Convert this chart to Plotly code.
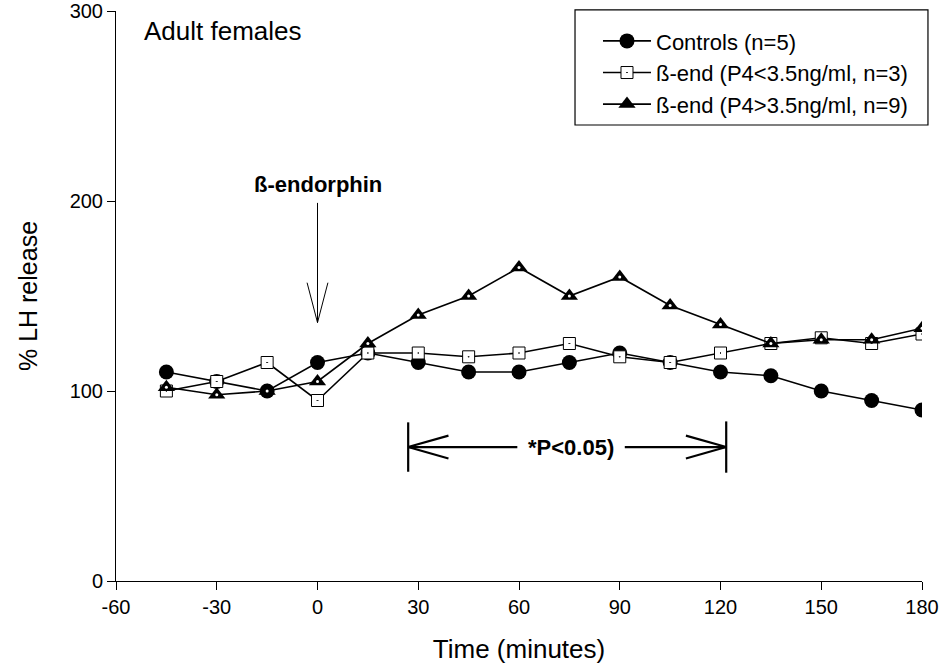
import plotly.graph_objects as go

time_min = [-45, -30, -15, 0, 15, 30, 45, 60, 75, 90, 105, 120, 135, 150, 165, 180]
controls = [110, 105, 100, 115, 120, 115, 110, 110, 115, 120, 115, 110, 108, 100, 95, 90]
bend_low = [100, 105, 115, 95, 120, 120, 118, 120, 125, 118, 115, 120, 125, 128, 125, 130]
bend_high = [102, 98, 100, 105, 125, 140, 150, 165, 150, 160, 145, 135, 125, 127, 127, 133]

x_ticks = [-60, -30, 0, 30, 60, 90, 120, 150, 180]
y_ticks = [0, 100, 200, 300]

FONT = "Liberation Sans, Arial, sans-serif"

fig = go.Figure()
fig.add_trace(go.Scatter(
    x=time_min, y=controls, mode="lines+markers", name="Controls (n=5)",
    line=dict(color="black", width=1.6),
    marker=dict(symbol="circle", size=15, color="black", line=dict(color="black", width=0))))
fig.add_trace(go.Scatter(
    x=time_min, y=bend_low, mode="lines+markers", name="ß-end (P4<3.5ng/ml, n=3)",
    line=dict(color="black", width=1.6),
    marker=dict(symbol="square-dot", size=12, color="white", line=dict(color="black", width=1))))
fig.add_trace(go.Scatter(
    x=time_min, y=bend_high, mode="lines+markers", name="ß-end (P4>3.5ng/ml, n=9)",
    line=dict(color="black", width=1.6),
    marker=dict(symbol="triangle-up", size=15, color="black", line=dict(color="black", width=0))))
fig.add_trace(go.Scatter(
    x=time_min, y=bend_high, mode="markers", showlegend=False, hoverinfo="skip",
    marker=dict(symbol="circle", size=3, color="white", line=dict(width=0))))

# beta-endorphin arrow
line_style = dict(color="black", width=1)
fig.add_shape(type="line", x0=0, x1=0, y0=199, y1=136, line=line_style)
fig.add_shape(type="line", x0=-3.1, x1=0, y0=157, y1=136, line=line_style)
fig.add_shape(type="line", x0=3.1, x1=0, y0=157, y1=136, line=line_style)

# significance bracket
b = dict(color="black", width=2.2)
fig.add_shape(type="line", x0=27, x1=27, y0=57.5, y1=83.5, line=b)
fig.add_shape(type="line", x0=121.7, x1=121.7, y0=57, y1=84, line=b)
fig.add_shape(type="line", x0=27, x1=59.5, y0=70.5, y1=70.5, line=b)
fig.add_shape(type="line", x0=91.5, x1=121.7, y0=70.5, y1=70.5, line=b)
fig.add_shape(type="line", x0=27, x1=39, y0=70.5, y1=76.5, line=b)
fig.add_shape(type="line", x0=27, x1=39, y0=70.5, y1=64.5, line=b)
fig.add_shape(type="line", x0=121.7, x1=109.7, y0=70.5, y1=76.5, line=b)
fig.add_shape(type="line", x0=121.7, x1=109.7, y0=70.5, y1=64.5, line=b)

# legend frame
fig.add_shape(type="rect", xref="paper", yref="paper",
              x0=0.5695, x1=1.0074, y0=0.8, y1=1.0018,
              line=dict(color="black", width=1.2), fillcolor="white", layer="above")

fig.add_annotation(x=75.5, y=70.5, text="<b>*P<0.05)</b>", showarrow=False,
                   font=dict(family=FONT, size=22, color="black"))
fig.add_annotation(x=0, y=208.5, text="<b>ß-endorphin</b>", showarrow=False,
                   font=dict(family=FONT, size=22, color="black"))
fig.add_annotation(x=-52.4, y=289.5, text="Adult females", showarrow=False, xanchor="left",
                   font=dict(family=FONT, size=26, color="black"))

fig.update_layout(
    width=943, height=665,
    margin=dict(l=116, r=21, t=11, b=84, autoexpand=False),
    plot_bgcolor="white", paper_bgcolor="white",
    font=dict(family=FONT, size=20, color="black"),
    legend=dict(x=0.598, y=0.984, xanchor="left", yanchor="top",
                borderwidth=0, bgcolor="rgba(0,0,0,0)",
                font=dict(family=FONT, size=22, color="black"),
                tracegroupgap=0, itemwidth=48),
    xaxis=dict(range=[-60, 180], tickvals=x_ticks, ticktext=[str(v) for v in x_ticks],
               showgrid=False, zeroline=False, showline=True, linecolor="black", linewidth=1,
               ticks="outside", ticklen=8, tickcolor="black",
               tickfont=dict(size=20),
               title=dict(text="Time (minutes)", font=dict(size=26), standoff=22)),
    yaxis=dict(range=[0, 300], tickvals=y_ticks, showgrid=False, zeroline=False,
               showline=True, linecolor="black", linewidth=1,
               ticks="outside", ticklen=8, tickcolor="black",
               tickfont=dict(size=20),
               title=dict(text="% LH release", font=dict(size=25), standoff=24)),
    showlegend=True,
)

fig.write_html("out.html")
